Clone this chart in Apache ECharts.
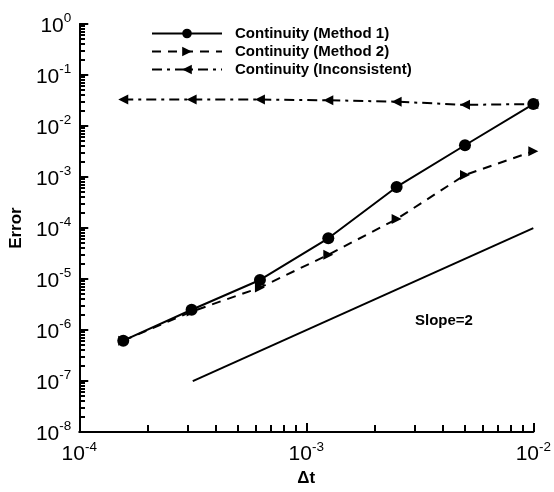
<!DOCTYPE html>
<html>
<head>
<meta charset="utf-8">
<script src="https://cdn.jsdelivr.net/npm/echarts@6/dist/echarts.min.js"></script>
<style>
  html, body { margin: 0; padding: 0; background: #fff; }
  #main { width: 554px; height: 492px; }
</style>
</head>
<body>
<div id="main"></div>
<script>
var dt = [1.5625e-4, 3.125e-4, 6.25e-4, 1.25e-3, 2.5e-3, 5e-3, 1e-2];
var method1 = [6.2e-7, 2.5e-6, 9.6e-6, 6.3e-5, 6.4e-4, 4.2e-3, 2.7e-2];
var method2 = [6.2e-7, 2.3e-6, 6.8e-6, 3.0e-5, 1.5e-4, 1.1e-3, 3.2e-3];
var inconsistent = [3.3e-2, 3.3e-2, 3.3e-2, 3.2e-2, 3.0e-2, 2.6e-2, 2.7e-2];
var slopeX = [3.1623e-4, 1e-2];
var slopeY = [1e-7, 1e-4];
var legendNames = ['Continuity (Method 1)', 'Continuity (Method 2)', 'Continuity (Inconsistent)'];

// minor tick values (2..9 within each decade)
var mult = [2, 3, 4, 5, 6, 7, 8, 9];
var xMinor = [], yMinor = [];
[-4, -3].forEach(function (d) {
  mult.forEach(function (m) { xMinor.push(m * Math.pow(10, d)); });
});
[-8, -7, -6, -5, -4, -3, -2, -1].forEach(function (d) {
  mult.forEach(function (m) { yMinor.push(m * Math.pow(10, d)); });
});

function pairs(xs, ys) {
  return xs.map(function (x, i) { return [x, ys[i]]; });
}

function powLabel(v) {
  var e = Math.round(Math.log(v) / Math.LN10);
  return '{b|10}{s|' + e + '}';
}
var labelRich = {
  b: { fontSize: 21, fontFamily: 'Liberation Sans', color: '#000', lineHeight: 25, verticalAlign: 'bottom' },
  s: { fontSize: 13.5, fontFamily: 'Liberation Sans', color: '#000', lineHeight: 25, verticalAlign: 'top' }
};

var chart = echarts.init(document.getElementById('main'));
var option = {
  animation: false,
  backgroundColor: '#fff',
  textStyle: { fontFamily: 'Liberation Sans' },
  grid: { left: 75, right: 19, top: 24, bottom: 48 },
  legend: {
    data: legendNames,
    orient: 'vertical',
    left: 146,
    top: 21,
    itemWidth: 70,
    itemHeight: 12,
    itemGap: 3,
    textStyle: { fontSize: 15, fontWeight: 'bold', color: '#000', fontFamily: 'Liberation Sans', padding: [0, 0, 0, 8] }
  },
  xAxis: {
    type: 'log',
    logBase: 10,
    min: 1e-4,
    max: 1e-2,
    interval: 1,
    name: 'Δt',
    nameLocation: 'middle',
    nameGap: 30,
    nameTextStyle: { fontSize: 17, fontWeight: 'bold', color: '#000' },
    axisLine: { lineStyle: { color: '#000', width: 2 } },
    axisTick: { inside: true, length: 9, lineStyle: { color: '#000', width: 2 } },
    axisLabel: { formatter: powLabel, rich: labelRich, margin: 8 },
    splitLine: { show: false }
  },
  yAxis: {
    type: 'log',
    logBase: 10,
    min: 1e-8,
    max: 1,
    interval: 1,
    name: 'Error',
    nameLocation: 'middle',
    nameGap: 37,
    nameTextStyle: { fontSize: 17, fontWeight: 'bold', color: '#000' },
    axisLine: { lineStyle: { color: '#000', width: 2 } },
    axisTick: { inside: true, length: 9, lineStyle: { color: '#000', width: 2 } },
    axisLabel: { formatter: powLabel, rich: labelRich, margin: 8 },
    splitLine: { show: false }
  },
  series: [
    {
      name: legendNames[0],
      type: 'line',
      data: pairs(dt, method1),
      symbol: 'circle',
      symbolSize: 12,
      itemStyle: { color: '#000' },
      lineStyle: { color: '#000', width: 2 },
      z: 4
    },
    {
      name: legendNames[1],
      type: 'line',
      data: pairs(dt, method2),
      symbol: 'triangle',
      symbolRotate: -90,
      symbolSize: 10,
      itemStyle: { color: '#000' },
      lineStyle: { color: '#000', width: 2, type: [9, 7] },
      z: 3
    },
    {
      name: legendNames[2],
      type: 'line',
      data: pairs(dt, inconsistent),
      symbol: 'triangle',
      symbolRotate: 90,
      symbolSize: 10,
      itemStyle: { color: '#000' },
      lineStyle: { color: '#000', width: 2, type: [10, 5, 3, 5] },
      z: 3
    },
    {
      name: 'slope',
      type: 'line',
      data: pairs(slopeX, slopeY),
      symbol: 'none',
      lineStyle: { color: '#000', width: 2 },
      silent: true
    }
  ]
};
chart.setOption(option);

// minor ticks: positions come from the axes via convertToPixel
var gfx = [{
  type: 'text', left: 415, top: 313,
  style: { text: 'Slope=2', fontSize: 15, fontWeight: 'bold', fill: '#000', fontFamily: 'Liberation Sans' }
}];
var corner = chart.convertToPixel({ gridIndex: 0 }, [1e-4, 1e-8]);
xMinor.forEach(function (v) {
  var px = Math.round(chart.convertToPixel({ xAxisIndex: 0 }, v));
  gfx.push({ type: 'rect', silent: true, z: 100,
             shape: { x: px - 1, y: Math.round(corner[1]) - 7, width: 2, height: 7 },
             style: { fill: '#000' } });
});
yMinor.forEach(function (v) {
  var py = Math.round(chart.convertToPixel({ yAxisIndex: 0 }, v));
  gfx.push({ type: 'rect', silent: true, z: 100,
             shape: { x: Math.round(corner[0]), y: py - 1, width: 6, height: 2 },
             style: { fill: '#000' } });
});
chart.setOption({ graphic: gfx });
</script>
</body>
</html>
